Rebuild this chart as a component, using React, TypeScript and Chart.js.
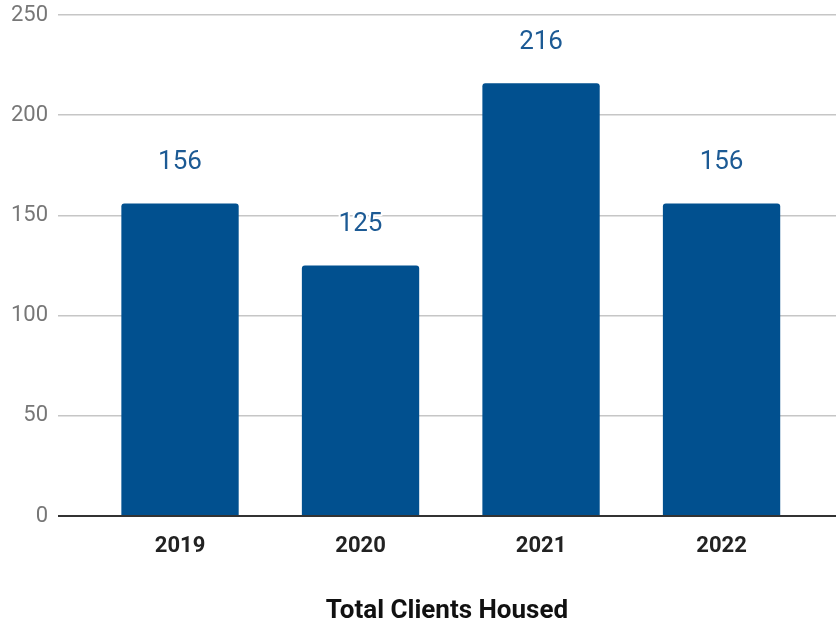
import React, { useEffect, useRef } from "react";
import { Chart, registerables } from "chart.js";

Chart.register(...registerables);

const categories = ["2019", "2020", "2021", "2022"];
const clientsHoused = [156, 125, 216, 156];
const yTicks = [0, 50, 100, 150, 200, 250];
const axisTitle = "Total Clients Housed";

const labelPlugin = {
  id: "valueLabels",
  afterDatasetsDraw(chart: any) {
    const ctx = chart.ctx;
    const meta = chart.getDatasetMeta(0);
    ctx.save();
    ctx.font = "26px Roboto";
    ctx.textAlign = "center";
    ctx.textBaseline = "middle";
    ctx.lineJoin = "round";
    meta.data.forEach((bar: any, i: number) => {
      const text = String(clientsHoused[i]);
      const y = bar.y - 41;
      ctx.lineWidth = 4;
      ctx.strokeStyle = "#ffffff";
      ctx.strokeText(text, bar.x, y);
      ctx.fillStyle = "#1c5a94";
      ctx.fillText(text, bar.x, y);
    });
    ctx.restore();
  },
};

export default function App() {
  const ref = useRef<HTMLCanvasElement>(null);
  useEffect(() => {
    if (!ref.current) return;
    const chart = new Chart(ref.current, {
      type: "bar",
      data: {
        datasets: [
          {
            data: clientsHoused.map((v, i) => ({ x: i, y: v })),
            backgroundColor: "#01508f",
            borderRadius: { topLeft: 3, topRight: 3, bottomLeft: 0, bottomRight: 0 },
            borderSkipped: "bottom",
            categoryPercentage: 0.65,
            barPercentage: 1,
          },
        ],
      },
      plugins: [labelPlugin],
      options: {
        responsive: true,
        maintainAspectRatio: false,
        animation: false,
        layout: { padding: { top: 0, right: 0, bottom: 0, left: 0 } },
        plugins: { legend: { display: false }, tooltip: { enabled: false } },
        scales: {
          x: {
            type: "linear",
            offset: false,
            min: -0.676,
            max: 3.634,
            grid: { display: false, drawTicks: false },
            border: { display: false },
            ticks: {
              stepSize: 1,
              includeBounds: false,
              autoSkip: false,
              maxRotation: 0,
              padding: 17,
              color: "#222222",
              font: { family: "Roboto", size: 22, weight: "bold" },
              callback: (v: any) =>
                Number.isInteger(v) && categories[v] ? categories[v] : "",
            },
            title: {
              display: true,
              text: axisTitle,
              color: "#111111",
              font: { family: "Roboto", size: 26, weight: "bold" },
              padding: { top: 0, bottom: -5 },
            },
            afterFit: (s: any) => {
              s.height = 106;
            },
          },
          y: {
            min: 0,
            max: 250,
            afterBuildTicks: (s: any) => {
              s.ticks = yTicks.map((v) => ({ value: v }));
            },
            grid: {
              drawTicks: false,
              color: (c: any) => (c.tick && c.tick.value === 0 ? "#333333" : "#c6c6c6"),
              lineWidth: (c: any) => (c.tick && c.tick.value === 0 ? 2 : 1.5),
            },
            border: { display: false },
            ticks: {
              padding: 10,
              color: "#777777",
              font: { family: "Roboto", size: 22 },
            },
            afterFit: (s: any) => {
              s.width = 58;
              s.paddingTop = 15;
            },
          },
        },
      },
    } as any);
    return () => chart.destroy();
  }, []);
  return (
    <div style={{ position: "fixed", left: 0, top: 0, width: 836, height: 622 }}>
      <canvas ref={ref} />
    </div>
  );
}
